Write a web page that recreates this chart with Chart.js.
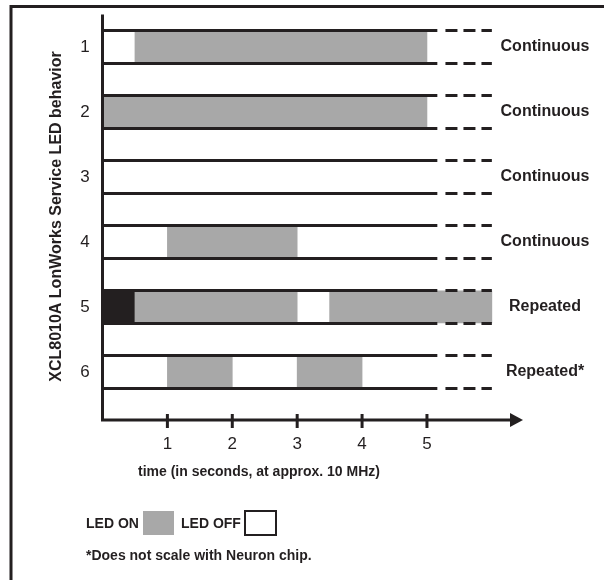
<!DOCTYPE html>
<html>
<head>
<meta charset="utf-8">
<script src="https://cdn.jsdelivr.net/npm/chart.js@4"></script>
<style>
  html, body { margin: 0; padding: 0; background: #fff; }
  canvas { display: block; }
</style>
</head>
<body>
<canvas id="chart-led" width="604" height="580"></canvas>
<script>
/* LED behaviour timing chart */

// rows and right-hand labels
const rowLabels = ['1', '2', '3', '4', '5', '6'];
const rowModes = ['Continuous', 'Continuous', 'Continuous', 'Continuous', 'Repeated', 'Repeated*'];

// LED ON segments (grey), in seconds
const onRow   = [1,   2, 4, 5,   5,   6, 6];
const onStart = [0.5, 0, 1, 0.5, 3.5, 1, 3];
const onEnd   = [5,   5, 3, 3,   6,   2, 4];

// dark segment (row 5 start)
const darkRow   = [5];
const darkStart = [0];
const darkEnd   = [0.5];

// x axis
const xTicks = [1, 2, 3, 4, 5];
const xMax = 6.48;        // arrow tip
const solidEnd = 5.16;    // band lines: solid part
const dashStart = 5.285;  // band lines: dashed part
const dashEnd = 6;
const bandHalf = 0.254;

const INK = '#231f20';
const GREY = '#a8a8a8';
const FONT = '"Liberation Sans", Arial, sans-serif';

const decor = {
  id: 'decor',
  beforeDraw(chart) {
    const c = chart.ctx;
    c.save();
    c.fillStyle = '#fff';
    c.fillRect(0, 0, chart.width, chart.height);
    c.restore();
  },
  afterDatasetsDraw(chart) {
    const c = chart.ctx;
    const xs = chart.scales.x, ys = chart.scales.y;
    const X = v => xs.getPixelForValue(v);
    const Y = v => ys.getPixelForValue(v);
    c.save();
    c.strokeStyle = INK;
    c.fillStyle = INK;
    c.lineWidth = 3;

    // frame (top + left)
    c.beginPath();
    c.moveTo(11, 580); c.lineTo(11, 6.5); c.lineTo(604, 6.5);
    c.stroke();

    // band lines
    rowLabels.forEach((r, i) => {
      const row = i + 1;
      [row - bandHalf, row + bandHalf].forEach(yv => {
        const y = Y(yv);
        c.setLineDash([]);
        c.beginPath(); c.moveTo(X(0), y); c.lineTo(X(solidEnd), y); c.stroke();
        c.setLineDash([12, 6]);
        c.beginPath(); c.moveTo(X(dashStart), y); c.lineTo(X(dashEnd), y); c.stroke();
      });
    });
    c.setLineDash([]);

    // axes
    const x0 = X(0), yb = ys.bottom;
    c.beginPath();
    c.moveTo(x0, ys.top); c.lineTo(x0, yb); c.lineTo(X(xMax) - 12, yb);
    c.stroke();
    c.beginPath();
    c.moveTo(X(xMax), yb); c.lineTo(X(xMax) - 13, yb - 7); c.lineTo(X(xMax) - 13, yb + 7);
    c.closePath(); c.fill();

    // x ticks + labels
    c.font = '17px ' + FONT;
    c.textAlign = 'center';
    c.textBaseline = 'middle';
    xTicks.forEach(t => {
      c.beginPath(); c.moveTo(X(t), yb - 6); c.lineTo(X(t), yb + 8); c.stroke();
      c.fillText(String(t), X(t), 444);
    });

    // y labels + mode labels
    rowLabels.forEach((r, i) => {
      c.font = '17px ' + FONT;
      c.fillText(r, 85, Y(i + 1));
      c.font = 'bold 16px ' + FONT;
      c.fillText(rowModes[i], 545, Y(i + 1));
    });

    // axis titles
    c.font = 'bold 14px ' + FONT;
    c.fillText('time (in seconds, at approx. 10 MHz)', 259, 472);
    c.save();
    c.translate(56.5, 216.5);
    c.rotate(-Math.PI / 2);
    c.font = 'bold 16px ' + FONT;
    c.fillText('XCL8010A LonWorks Service LED behavior', 0, 0);
    c.restore();

    // legend
    c.font = 'bold 14px ' + FONT;
    c.textAlign = 'left';
    c.fillText('LED ON', 86, 524);
    c.fillStyle = GREY;
    c.fillRect(143, 511, 31, 24);
    c.fillStyle = INK;
    c.fillText('LED OFF', 181, 524);
    c.lineWidth = 2;
    c.strokeRect(245, 511, 31, 24);
    c.fillText('*Does not scale with Neuron chip.', 86, 556);
    c.restore();
  }
};

const onData = onRow.map((r, i) => ({ x: [onStart[i], onEnd[i]], y: r }));
const darkData = darkRow.map((r, i) => ({ x: [darkStart[i], darkEnd[i]], y: r }));

new Chart(document.getElementById('chart-led'), {
  type: 'bar',
  data: {
    datasets: [
      { data: onData, backgroundColor: GREY, borderWidth: 0, barThickness: 32, grouped: false },
      { data: darkData, backgroundColor: INK, borderWidth: 0, barThickness: 32, grouped: false }
    ]
  },
  options: {
    indexAxis: 'y',
    responsive: false,
    animation: false,
    layout: { padding: { left: 102.5, right: 81, top: 14.5, bottom: 160 } },
    scales: {
      x: { type: 'linear', min: 0, max: xMax, offset: false, display: false },
      y: { type: 'linear', min: 0.5, max: 6.74, reverse: true, offset: false, display: false }
    },
    plugins: { legend: { display: false }, tooltip: { enabled: false } }
  },
  plugins: [decor]
});
</script>
</body>
</html>
